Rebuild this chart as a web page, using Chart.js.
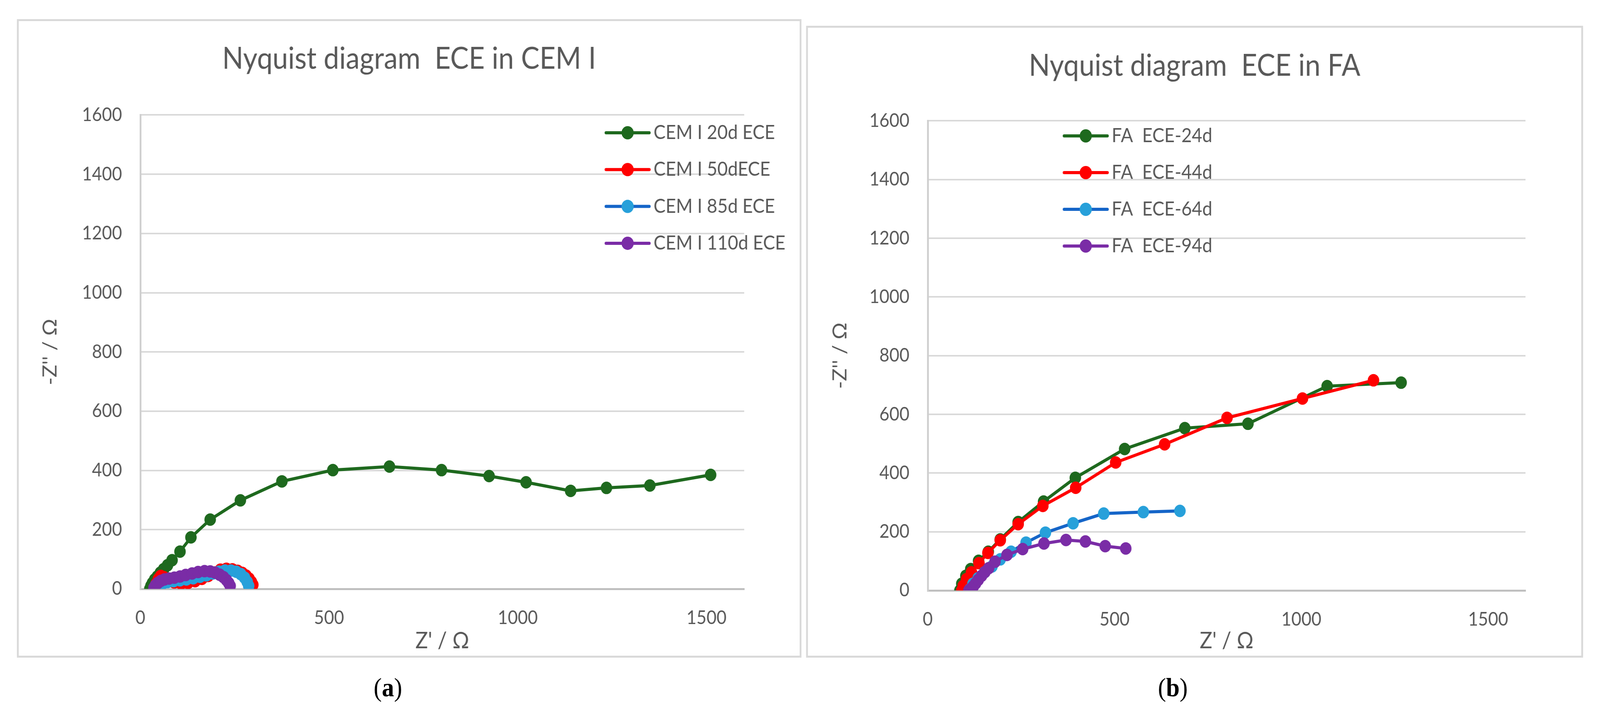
<!DOCTYPE html>
<html>
<head>
<meta charset="utf-8">
<script src="https://cdn.jsdelivr.net/npm/chart.js@4.4.0/dist/chart.umd.min.js"></script>
<style>
html,body{margin:0;padding:0;background:#fff;overflow:hidden}
#page{position:absolute;left:0;top:0;width:4446px;height:1836px;transform-origin:0 0}
.box{position:absolute;box-sizing:border-box;border:5px solid #d9d9d9}
canvas{position:absolute}
.lbl{position:absolute;font-family:"Liberation Serif",serif;font-size:68px;transform:translate(-50%,-50%);color:#000}
</style>
</head>
<body>
<div id="page">
<div class="box" style="left:47px;top:49px;width:2180px;height:1635px"></div>
<div class="box" style="left:2240px;top:66px;width:2159px;height:1618px"></div>
<canvas id="chartA" width="2180" height="1635" style="left:47px;top:49px"></canvas>
<canvas id="chartB" width="2159" height="1618" style="left:2240px;top:66px"></canvas>
<div class="lbl" style="left:1078px;top:1760px">(<b>a</b>)</div>
<div class="lbl" style="left:3259px;top:1760px">(<b>b</b>)</div>
</div>
<script>
// tick labels
const xTicks = [0, 500, 1000, 1500];
const yTicks = [0, 200, 400, 600, 800, 1000, 1200, 1400, 1600];

// panel (a) - CEM I
const cemLabels = ['CEM I 20d ECE', 'CEM I 50dECE', 'CEM I 85d ECE', 'CEM I 110d ECE'];
const cem20X = [25, 28, 32, 38, 45, 53, 62, 72, 84, 105, 134, 185, 265, 375, 510, 660, 798, 924, 1022, 1140, 1235, 1350, 1511];
const cem20Y = [0, 10, 20, 32, 42, 55, 67, 80, 97, 126, 174, 234, 299, 363, 401, 413, 401, 381, 360, 331, 341, 349, 385];
const cem50X = [38, 42, 48, 54, 62, 74, 90, 108, 126, 145, 163, 180, 196, 212, 228, 244, 258, 270, 280, 288, 294, 298];
const cem50Y = [3, 18, 34, 44, 40, 30, 22, 18, 20, 26, 34, 44, 55, 65, 68, 66, 61, 54, 45, 35, 24, 14];
const cem85X = [42, 46, 52, 60, 72, 88, 105, 122, 140, 158, 175, 192, 208, 224, 240, 254, 266, 276, 283, 287];
const cem85Y = [2, 8, 14, 19, 23, 26, 29, 32, 36, 41, 46, 52, 58, 62, 62, 58, 50, 38, 24, 10];
const cem110X = [36, 40, 46, 54, 64, 76, 90, 105, 120, 137, 153, 170, 185, 198, 210, 220, 228, 234, 238];
const cem110Y = [4, 12, 20, 27, 32, 35, 38, 42, 47, 52, 57, 60, 59, 55, 48, 40, 30, 20, 10];

// panel (b) - FA
const faLabels = ['FA  ECE-24d', 'FA  ECE-44d', 'FA  ECE-64d', 'FA  ECE-94d'];
const fa24X = [86, 91, 102, 115, 136, 162, 194, 242, 310, 395, 527, 688, 857, 1069, 1267];
const fa24Y = [0, 23, 50, 73, 101, 132, 174, 233, 303, 384, 482, 553, 568, 696, 708];
const fa44X = [91, 95, 104, 117, 137, 161, 194, 242, 308, 396, 503, 634, 801, 1003, 1193];
const fa44Y = [0, 16, 39, 62, 93, 128, 171, 226, 288, 350, 436, 498, 588, 654, 716];
const fa64X = [112, 121, 135, 152, 172, 194, 223, 263, 315, 389, 471, 577, 675];
const fa64Y = [3, 23, 42, 62, 82, 106, 132, 163, 197, 229, 262, 267, 271];
const fa94X = [110, 116, 122, 128, 135, 144, 153, 163, 180, 212, 254, 311, 370, 422, 475, 530];
const fa94Y = [0, 6, 14, 24, 36, 50, 63, 76, 98, 121, 141, 160, 172, 167, 151, 143];

const lineColors = ['#1e691e', '#ff0000', '#1565c8', '#7a2ca6'];
const markerColors = ['#1e691e', '#ff0000', '#27a0da', '#7a2ca6'];
const textColor = '#595959';

// the viewport is not always 4446 wide, so fit the page into it
const sx = window.innerWidth / 4446, sy = window.innerHeight / 1836;
document.getElementById('page').style.transform = 'scale(' + sx + ',' + sy + ')';

function pts(xs, ys) {
    return xs.map((x, i) => ({x: x, y: ys[i]}));
}

function makeSets(labels, series) {
    return series.map((s, i) => ({
        label: labels[i],
        data: pts(s[0], s[1]),
        showLine: true,
        borderColor: lineColors[i],
        borderWidth: 8,
        pointRadius: 16,
        pointBorderWidth: 0,
        pointBackgroundColor: markerColors[i],
        order: 4 - i
    }));
}

// legend drawn inside the plot, like the excel one
const sideLegend = {
    id: 'sideLegend',
    afterDatasetsDraw(chart, args, opts) {
        const ctx = chart.ctx;
        ctx.save();
        chart.data.datasets.forEach((ds, i) => {
            const y = opts.y + i * opts.gap;
            ctx.strokeStyle = ds.borderColor;
            ctx.lineWidth = 8;
            ctx.lineCap = 'round';
            ctx.beginPath();
            ctx.moveTo(opts.x, y);
            ctx.lineTo(opts.x + 120, y);
            ctx.stroke();
            ctx.fillStyle = ds.pointBackgroundColor;
            ctx.beginPath();
            ctx.arc(opts.x + 60, y, 17, 0, Math.PI * 2);
            ctx.fill();
            ctx.fillStyle = textColor;
            ctx.font = '50px Lato';
            ctx.textAlign = 'left';
            ctx.textBaseline = 'middle';
            ctx.fillText(ds.label, opts.x + 132, y);
        });
        ctx.restore();
    }
};

function makeChart(id, title, sets, c) {
    return new Chart(document.getElementById(id), {
        type: 'scatter',
        data: {datasets: sets},
        plugins: [sideLegend],
        options: {
            responsive: false,
            animation: false,
            devicePixelRatio: 1,
            layout: {padding: {left: c.pad, right: c.pad, top: 0, bottom: 0}},
            plugins: {
                legend: {display: false},
                tooltip: {enabled: false},
                title: {
                    display: true,
                    text: title,
                    color: textColor,
                    font: {family: 'Lato', size: 77, weight: 'normal'},
                    padding: {top: c.titleTop, bottom: c.titleBottom}
                },
                sideLegend: c.legend
            },
            scales: {
                x: {
                    type: 'linear',
                    min: 0,
                    max: 1600,
                    afterBuildTicks: s => { s.ticks = xTicks.map(v => ({value: v})); },
                    afterFit: s => { s.height = c.xh; },
                    grid: {display: false, drawTicks: false},
                    border: {display: true, color: '#bfbfbf', width: 5},
                    ticks: {color: textColor, font: {family: 'Lato', size: 48}, padding: 46, maxRotation: 0,
                        callback: v => String(v)},
                    title: {display: true, text: "Z' / Ω", color: textColor,
                        font: {family: 'Lato', size: 58}, padding: {top: 0, bottom: 8}}
                },
                y: {
                    type: 'linear',
                    min: 0,
                    max: 1600,
                    afterBuildTicks: s => { s.ticks = yTicks.map(v => ({value: v})); },
                    afterFit: s => { s.width = c.yw; },
                    grid: {
                        drawTicks: false,
                        lineWidth: 4,
                        color: ctx => ctx.tick && ctx.tick.value === 0 ? '#bfbfbf' : '#d9d9d9'
                    },
                    border: {display: true, color: '#cfcfcf', width: 5},
                    ticks: {color: textColor, font: {family: 'Lato', size: 48}, padding: 51,
                        callback: v => String(v)},
                    title: {display: true, text: "-Z'' / Ω", color: textColor,
                        font: {family: 'Lato', size: 54}, padding: {top: c.yTitleTop, bottom: 0}}
                }
            }
        }
    });
}

makeChart('chartA', 'Nyquist diagram  ECE in CEM I',
    makeSets(cemLabels, [[cem20X, cem20Y], [cem50X, cem50Y], [cem85X, cem85Y], [cem110X, cem110Y]]),
    {pad: 159, yw: 184, xh: 176, titleTop: 56, titleBottom: 97, yTitleTop: -99,
     legend: {x: 1637, y: 291, gap: 94.3}});

makeChart('chartB', 'Nyquist diagram  ECE in FA',
    makeSets(faLabels, [[fa24X, fa24Y], [fa44X, fa44Y], [fa64X, fa64Y], [fa94X, fa94Y]]),
    {pad: 160, yw: 178, xh: 172, titleTop: 57, titleBottom: 94, yTitleTop: -98,
     legend: {x: 717, y: 282, gap: 94}});
</script>
</body>
</html>
